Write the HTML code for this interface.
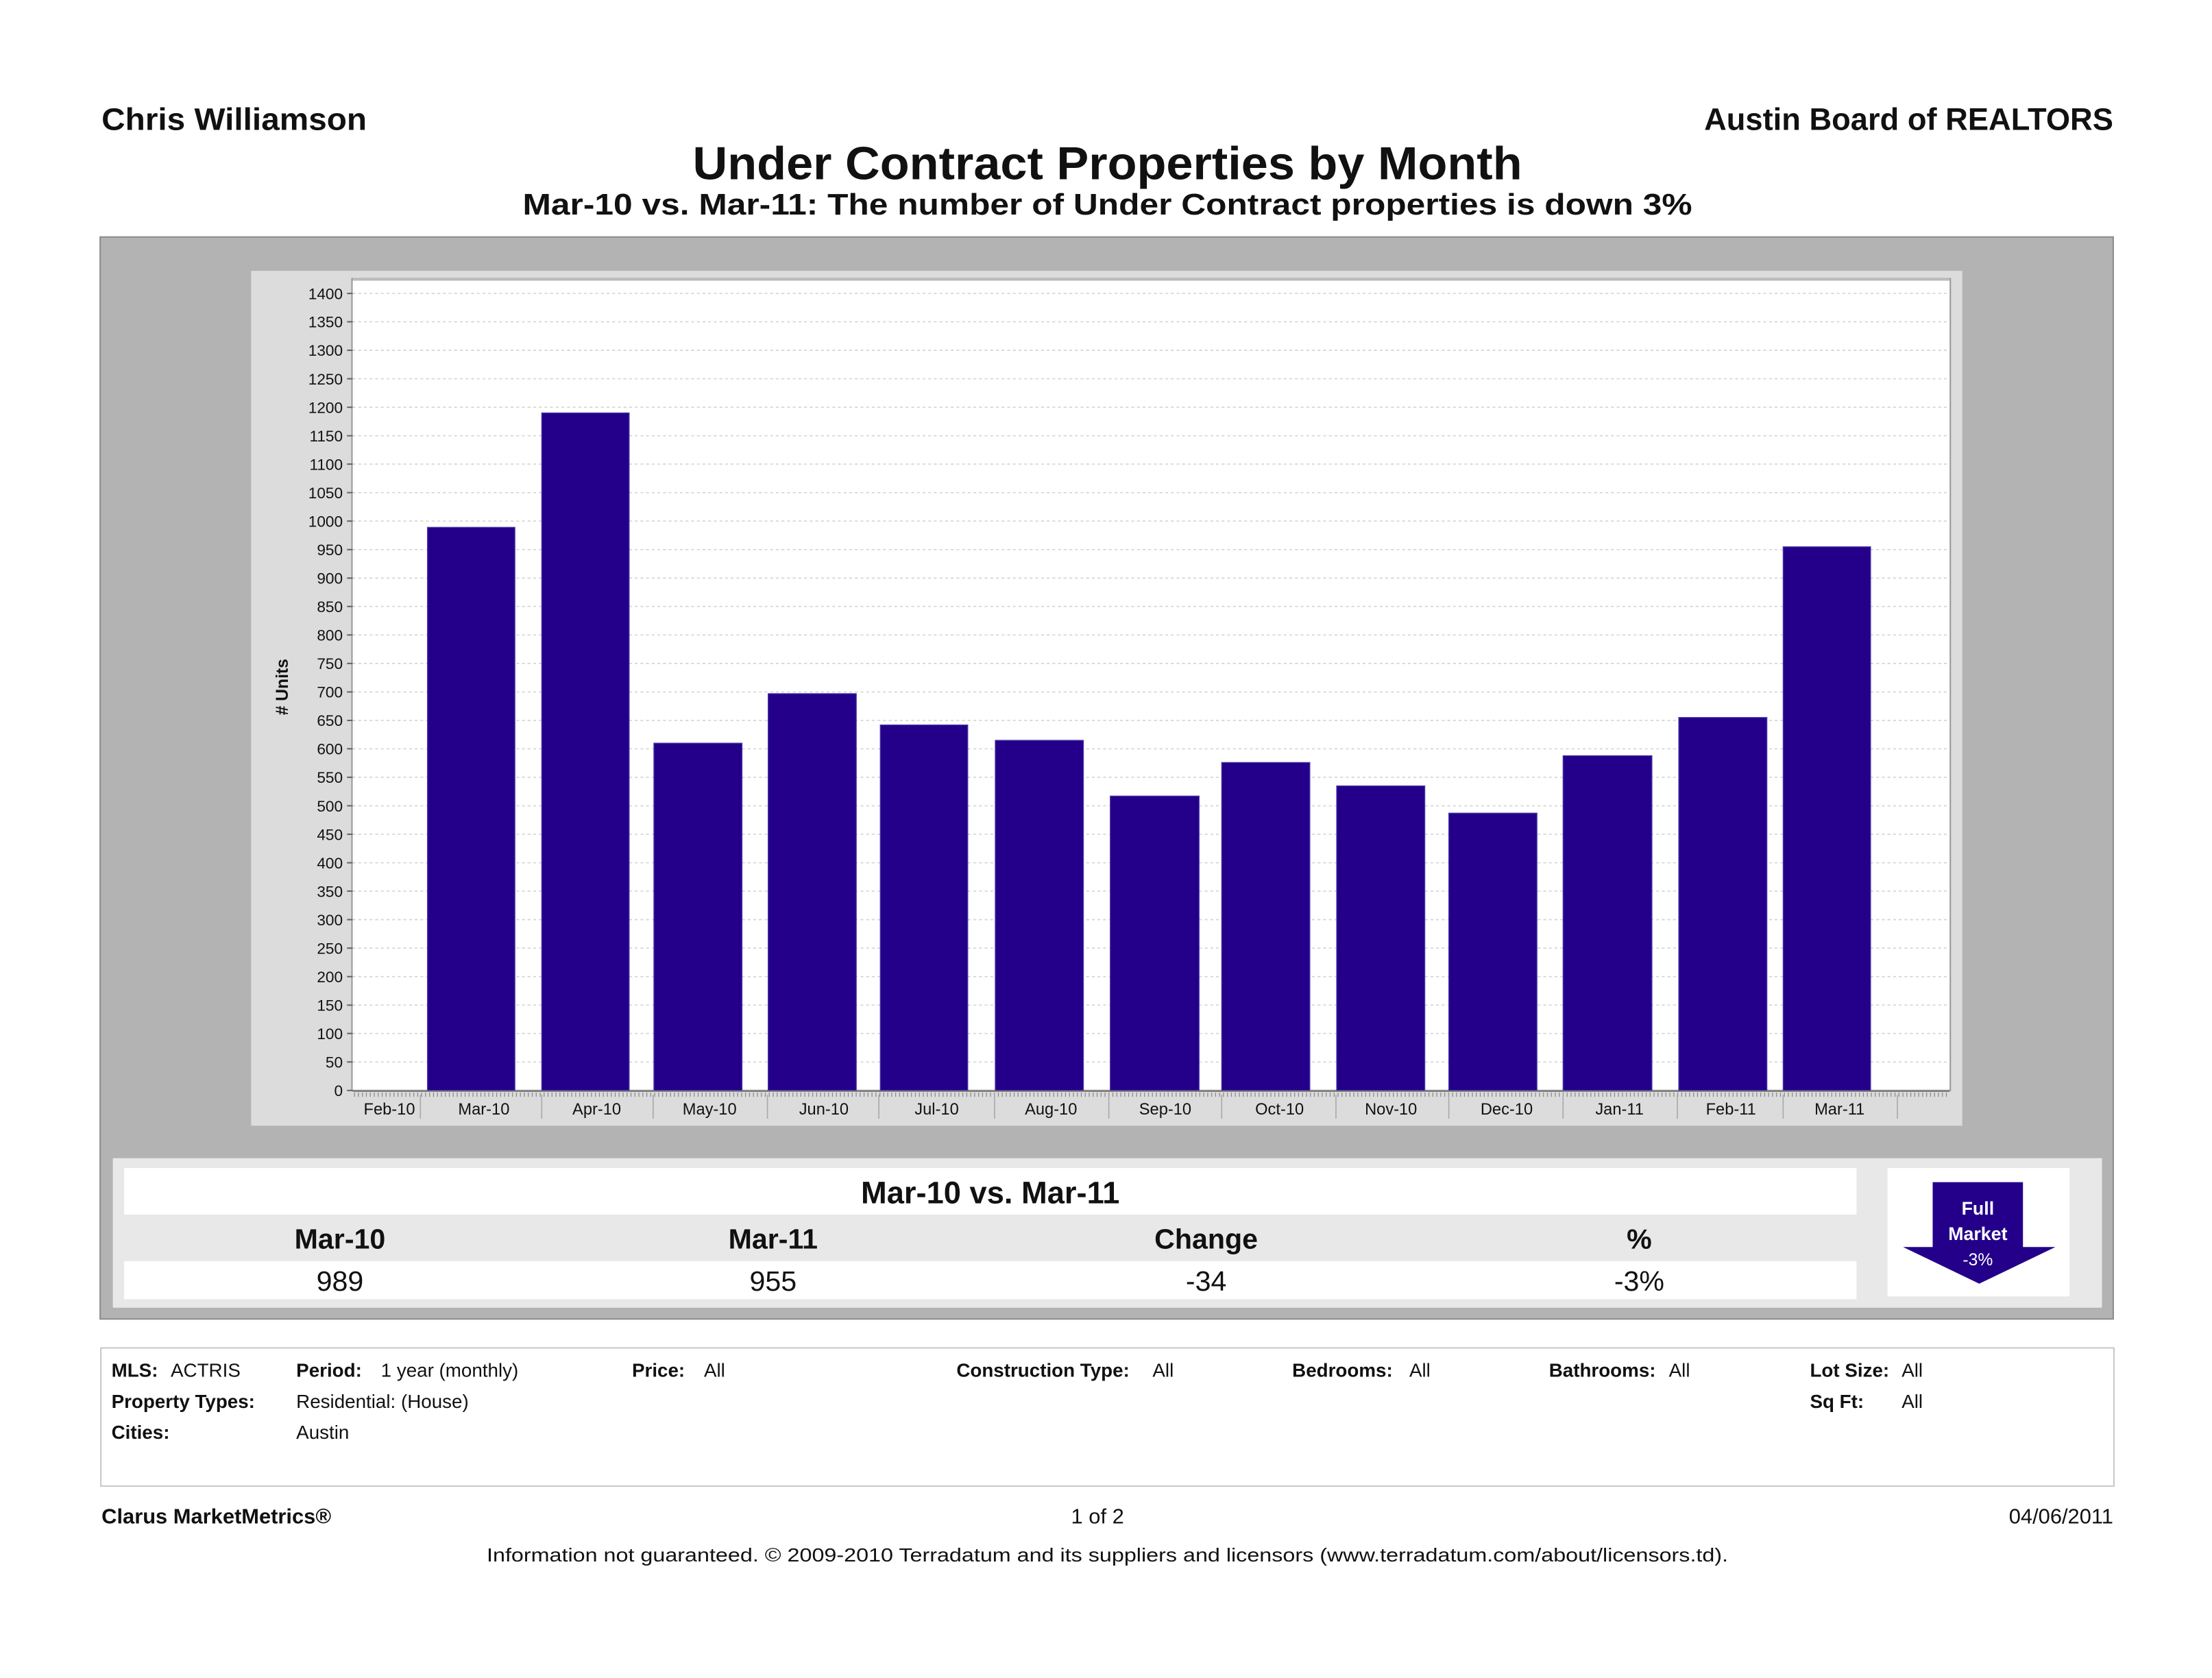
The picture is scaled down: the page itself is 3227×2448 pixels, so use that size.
<!DOCTYPE html>
<html><head><meta charset="utf-8"><style>
html,body{margin:0;padding:0;background:#fff;}
svg{display:block;}
text{font-family:"Liberation Sans",sans-serif;fill:#111;}
.b{font-weight:bold;}
</style></head><body>
<svg width="3227" height="2448" viewBox="0 0 1568 1189.5" preserveAspectRatio="none" xmlns="http://www.w3.org/2000/svg">
<rect width="1568" height="1190" fill="#fff"/>
<!-- header -->
<text x="72" y="92" font-size="22" class="b" textLength="188" lengthAdjust="spacingAndGlyphs">Chris Williamson</text>
<text x="1498" y="92" font-size="22" class="b" text-anchor="end">Austin Board of REALTORS</text>
<text x="785" y="127" font-size="33" class="b" text-anchor="middle" textLength="588" lengthAdjust="spacingAndGlyphs">Under Contract Properties by Month</text>
<text x="785" y="152" font-size="21" class="b" text-anchor="middle" textLength="829" lengthAdjust="spacingAndGlyphs">Mar-10 vs. Mar-11: The number of Under Contract properties is down 3%</text>
<!-- gray panel -->
<rect x="71" y="168" width="1427" height="767" fill="#b3b3b3" stroke="#8c8c8c" stroke-width="1"/>
<rect x="178" y="192" width="1213" height="606" fill="#dcdcdc"/>
<rect x="249.5" y="197.5" width="1133" height="575.5" fill="#fff" stroke="#999" stroke-width="1"/>
<line x1="250" y1="198" x2="1382" y2="198" stroke="#bbb" stroke-width="2"/>
<!-- grid -->
<g stroke="#d4d4d4" stroke-width="0.8" stroke-dasharray="2 2">
<line x1="250" x2="1382" y1="752.8" y2="752.8"/><line x1="250" x2="1382" y1="732.6" y2="732.6"/><line x1="250" x2="1382" y1="712.5" y2="712.5"/><line x1="250" x2="1382" y1="692.3" y2="692.3"/><line x1="250" x2="1382" y1="672.1" y2="672.1"/><line x1="250" x2="1382" y1="651.9" y2="651.9"/><line x1="250" x2="1382" y1="631.7" y2="631.7"/><line x1="250" x2="1382" y1="611.6" y2="611.6"/><line x1="250" x2="1382" y1="591.4" y2="591.4"/><line x1="250" x2="1382" y1="571.2" y2="571.2"/><line x1="250" x2="1382" y1="551.0" y2="551.0"/><line x1="250" x2="1382" y1="530.8" y2="530.8"/><line x1="250" x2="1382" y1="510.7" y2="510.7"/><line x1="250" x2="1382" y1="490.5" y2="490.5"/><line x1="250" x2="1382" y1="470.3" y2="470.3"/><line x1="250" x2="1382" y1="450.1" y2="450.1"/><line x1="250" x2="1382" y1="429.9" y2="429.9"/><line x1="250" x2="1382" y1="409.8" y2="409.8"/><line x1="250" x2="1382" y1="389.6" y2="389.6"/><line x1="250" x2="1382" y1="369.4" y2="369.4"/><line x1="250" x2="1382" y1="349.2" y2="349.2"/><line x1="250" x2="1382" y1="329.0" y2="329.0"/><line x1="250" x2="1382" y1="308.9" y2="308.9"/><line x1="250" x2="1382" y1="288.7" y2="288.7"/><line x1="250" x2="1382" y1="268.5" y2="268.5"/><line x1="250" x2="1382" y1="248.3" y2="248.3"/><line x1="250" x2="1382" y1="228.1" y2="228.1"/><line x1="250" x2="1382" y1="208.0" y2="208.0"/>
</g>
<!-- y ticks & labels -->
<g stroke="#666" stroke-width="1">
<line x1="246" x2="250" y1="773" y2="773"/><line x1="246" x2="250" y1="752.8" y2="752.8"/><line x1="246" x2="250" y1="732.6" y2="732.6"/><line x1="246" x2="250" y1="712.5" y2="712.5"/><line x1="246" x2="250" y1="692.3" y2="692.3"/><line x1="246" x2="250" y1="672.1" y2="672.1"/><line x1="246" x2="250" y1="651.9" y2="651.9"/><line x1="246" x2="250" y1="631.7" y2="631.7"/><line x1="246" x2="250" y1="611.6" y2="611.6"/><line x1="246" x2="250" y1="591.4" y2="591.4"/><line x1="246" x2="250" y1="571.2" y2="571.2"/><line x1="246" x2="250" y1="551.0" y2="551.0"/><line x1="246" x2="250" y1="530.8" y2="530.8"/><line x1="246" x2="250" y1="510.7" y2="510.7"/><line x1="246" x2="250" y1="490.5" y2="490.5"/><line x1="246" x2="250" y1="470.3" y2="470.3"/><line x1="246" x2="250" y1="450.1" y2="450.1"/><line x1="246" x2="250" y1="429.9" y2="429.9"/><line x1="246" x2="250" y1="409.8" y2="409.8"/><line x1="246" x2="250" y1="389.6" y2="389.6"/><line x1="246" x2="250" y1="369.4" y2="369.4"/><line x1="246" x2="250" y1="349.2" y2="349.2"/><line x1="246" x2="250" y1="329.0" y2="329.0"/><line x1="246" x2="250" y1="308.9" y2="308.9"/><line x1="246" x2="250" y1="288.7" y2="288.7"/><line x1="246" x2="250" y1="268.5" y2="268.5"/><line x1="246" x2="250" y1="248.3" y2="248.3"/><line x1="246" x2="250" y1="228.1" y2="228.1"/><line x1="246" x2="250" y1="208.0" y2="208.0"/>
</g>
<g font-size="11" text-anchor="end">
<text x="243" y="777">0</text><text x="243" y="756.8">50</text><text x="243" y="736.6">100</text><text x="243" y="716.5">150</text><text x="243" y="696.3">200</text><text x="243" y="676.1">250</text><text x="243" y="655.9">300</text><text x="243" y="635.7">350</text><text x="243" y="615.6">400</text><text x="243" y="595.4">450</text><text x="243" y="575.2">500</text><text x="243" y="555">550</text><text x="243" y="534.8">600</text><text x="243" y="514.7">650</text><text x="243" y="494.5">700</text><text x="243" y="474.3">750</text><text x="243" y="454.1">800</text><text x="243" y="433.9">850</text><text x="243" y="413.8">900</text><text x="243" y="393.6">950</text><text x="243" y="373.4">1000</text><text x="243" y="353.2">1050</text><text x="243" y="333">1100</text><text x="243" y="312.9">1150</text><text x="243" y="292.7">1200</text><text x="243" y="272.5">1250</text><text x="243" y="252.3">1300</text><text x="243" y="232.1">1350</text><text x="243" y="212">1400</text>
</g>
<text transform="translate(204,487) rotate(-90)" font-size="12" class="b" text-anchor="middle">#&#160;Units</text>
<!-- bars -->
<g fill="#24008a" stroke="#4a3aa8" stroke-width="0.6">
<rect x="303" y="373.8" width="62" height="399.2"/>
<rect x="384" y="292.7" width="62" height="480.3"/>
<rect x="463.5" y="526.8" width="62.5" height="246.2"/>
<rect x="544.5" y="491.7" width="62.5" height="281.3"/>
<rect x="624" y="513.9" width="62" height="259.1"/>
<rect x="705.5" y="524.8" width="62.5" height="248.2"/>
<rect x="787" y="564.3" width="63" height="208.7"/>
<rect x="866" y="540.5" width="62.5" height="232.5"/>
<rect x="947.5" y="557.1" width="62.5" height="215.9"/>
<rect x="1027" y="576.4" width="62.5" height="196.6"/>
<rect x="1108" y="535.7" width="63" height="237.3"/>
<rect x="1190" y="508.6" width="62.5" height="264.4"/>
<rect x="1264" y="387.6" width="62" height="385.4"/>
</g>
<!-- x axis -->
<line x1="250" y1="773.5" x2="1382" y2="773.5" stroke="#777" stroke-width="1"/>
<line x1="251" y1="776" x2="1380" y2="776" stroke="#888" stroke-width="3" stroke-dasharray="0.6 2.2"/>
<g stroke="#aaa" stroke-width="0.8">
<line x1="298" x2="298" y1="776" y2="793"/><line x1="384" x2="384" y1="776" y2="793"/><line x1="463" x2="463" y1="776" y2="793"/><line x1="544" x2="544" y1="776" y2="793"/><line x1="623" x2="623" y1="776" y2="793"/><line x1="705" x2="705" y1="776" y2="793"/><line x1="786" x2="786" y1="776" y2="793"/><line x1="866" x2="866" y1="776" y2="793"/><line x1="947" x2="947" y1="776" y2="793"/><line x1="1027" x2="1027" y1="776" y2="793"/><line x1="1108" x2="1108" y1="776" y2="793"/><line x1="1189" x2="1189" y1="776" y2="793"/><line x1="1264" x2="1264" y1="776" y2="793"/><line x1="1345" x2="1345" y1="776" y2="793"/>
</g>
<g font-size="11.5" text-anchor="middle">
<text x="276" y="790">Feb-10</text><text x="343" y="790">Mar-10</text><text x="423" y="790">Apr-10</text><text x="503" y="790">May-10</text><text x="584" y="790">Jun-10</text><text x="664" y="790">Jul-10</text><text x="745" y="790">Aug-10</text><text x="826" y="790">Sep-10</text><text x="907" y="790">Oct-10</text><text x="986" y="790">Nov-10</text><text x="1068" y="790">Dec-10</text><text x="1148" y="790">Jan-11</text><text x="1227" y="790">Feb-11</text><text x="1304" y="790">Mar-11</text>
</g>
<!-- summary -->
<rect x="80" y="821" width="1410" height="106" fill="#e8e8e8"/>
<rect x="88" y="828" width="1228" height="33" fill="#fff"/>
<rect x="88" y="894" width="1228" height="27" fill="#fff"/>
<text x="702" y="853" font-size="22" class="b" text-anchor="middle">Mar-10 vs. Mar-11</text>
<g font-size="20" class="b" text-anchor="middle">
<text x="241" y="885">Mar-10</text><text x="548" y="885">Mar-11</text><text x="855" y="885">Change</text><text x="1162" y="885">%</text>
</g>
<g font-size="20" text-anchor="middle">
<text x="241" y="915">989</text><text x="548" y="915">955</text><text x="855" y="915">-34</text><text x="1162" y="915">-3%</text>
</g>
<rect x="1338" y="828" width="129" height="91" fill="#fff"/>
<polygon points="1370,838 1434,838 1434,884 1457,884 1403,910 1349,884 1370,884" fill="#24008a"/>
<g font-size="13" class="b" text-anchor="middle" style="fill:#fff">
<text x="1402" y="861" style="fill:#fff">Full</text>
<text x="1402" y="879" style="fill:#fff">Market</text>
<text x="1402" y="897" font-size="12" style="fill:#fff;font-weight:normal">-3%</text>
</g>
<!-- footer box -->
<rect x="71.5" y="955.5" width="1427" height="98" fill="#fff" stroke="#c8c8c8" stroke-width="1"/>
<g font-size="13.5">
<text x="79" y="976" class="b">MLS:</text><text x="121" y="976">ACTRIS</text>
<text x="210" y="976" class="b">Period:</text><text x="270" y="976">1 year (monthly)</text>
<text x="448" y="976" class="b">Price:</text><text x="499" y="976">All</text>
<text x="678" y="976" class="b">Construction Type:</text><text x="817" y="976">All</text>
<text x="916" y="976" class="b">Bedrooms:</text><text x="999" y="976">All</text>
<text x="1098" y="976" class="b">Bathrooms:</text><text x="1183" y="976">All</text>
<text x="1283" y="976" class="b">Lot Size:</text><text x="1348" y="976">All</text>
<text x="79" y="998" class="b">Property Types:</text><text x="210" y="998">Residential: (House)</text>
<text x="1283" y="998" class="b">Sq Ft:</text><text x="1348" y="998">All</text>
<text x="79" y="1020" class="b">Cities:</text><text x="210" y="1020">Austin</text>
</g>
<text x="72" y="1080" font-size="15" class="b">Clarus MarketMetrics®</text>
<text x="778" y="1080" font-size="15" text-anchor="middle">1 of 2</text>
<text x="1498" y="1080" font-size="15" text-anchor="end">04/06/2011</text>
<text x="785" y="1107" font-size="13.5" text-anchor="middle" textLength="880" lengthAdjust="spacingAndGlyphs">Information not guaranteed.  © 2009-2010 Terradatum and its suppliers and licensors (www.terradatum.com/about/licensors.td).</text>
</svg>
</body></html>
